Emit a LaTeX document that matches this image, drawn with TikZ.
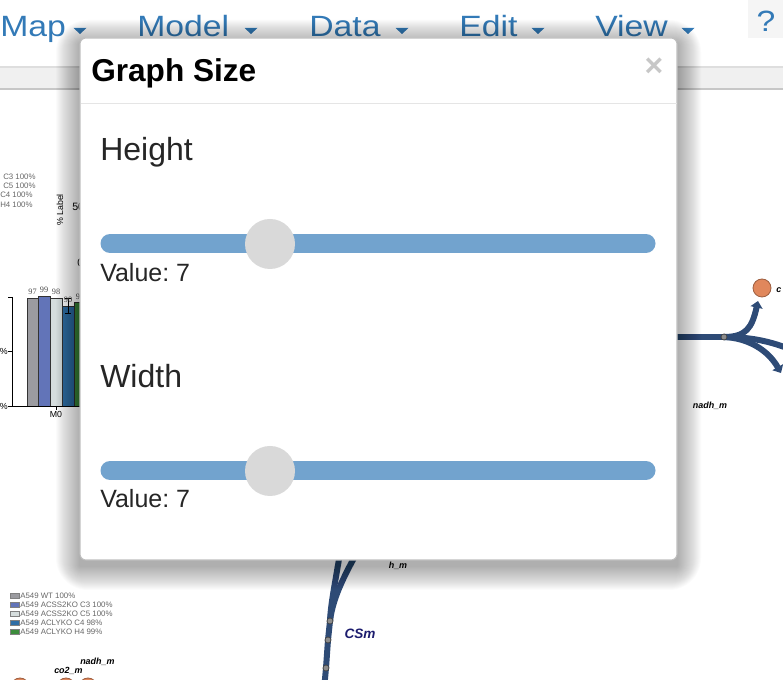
\documentclass[tikz,border=0pt]{standalone}
\usepackage{fontspec}
\setmainfont{Liberation Sans}
\newfontfamily\chartserif{Liberation Serif}
\usetikzlibrary{arrows.meta,backgrounds}
\frenchspacing

\definecolor{menublue}{HTML}{337AB7}
\definecolor{trackblue}{HTML}{72A3CE}
\definecolor{knobgray}{HTML}{D9D9D9}
\definecolor{fluxblue}{HTML}{2E4B76}
\definecolor{metorange}{HTML}{E0875C}
\definecolor{cssnavy}{HTML}{1C1C6E}
\definecolor{barA}{HTML}{9B9BA0}
\definecolor{barB}{HTML}{6274B8}
\definecolor{barC}{HTML}{D5DDDD}
\definecolor{barD}{HTML}{2F6EA5}
\definecolor{barE}{HTML}{3C8C3C}

\begin{document}
\begin{tikzpicture}[x=0.75pt, y=-0.75pt, every node/.style={inner sep=0pt},
	menu/.style={anchor=base west, text=menublue, xscale=1.15, font=\fontsize{22}{26}\selectfont},
	dlgtitle/.style={anchor=base west, font=\bfseries\fontsize{23.7}{28}\selectfont},
	dlglabel/.style={anchor=base west, text=black!85, font=\fontsize{24}{28}\selectfont},
	dlgvalue/.style={anchor=base west, text=black!85, font=\fontsize{18.75}{22}\selectfont},
	track/.style={draw=trackblue, line width=14.25pt, line cap=round},
	knob/.style={circle, fill=knobgray, minimum size=37.5pt},
	legtext/.style={anchor=west, text=black!60, font=\fontsize{5.9}{6}\selectfont},
	axtext/.style={font=\fontsize{6.6}{7}\selectfont},
	valtext/.style={font=\chartserif\fontsize{6.2}{7}\selectfont, text=black!70},
	metlabel/.style={font=\bfseries\itshape\fontsize{6.7}{7}\selectfont},
	flux/.style={draw=fluxblue, line width=4.5pt},
	rxn/.style={circle, draw=black!75, fill=black!45, minimum size=4.5pt, line width=0.5pt},
	met/.style={circle, draw=metorange!70!black, fill=metorange, minimum size=13.5pt, line width=0.6pt},
	bar/.style={draw=black!80, line width=0.5pt}]
	\useasboundingbox (0,0) rectangle (783,680);

	% top menu
	\fill[black!4] (748,0) rectangle (783,38);
	\node[menu] (mmap) at (0,37) {Map};
	\node[menu] (mmodel) at (137,37) {Model};
	\node[menu] (mdata) at (309,37) {Data};
	\node[menu] (medit) at (459,37) {Edit};
	\node[menu] (mview) at (595,37) {View};
	\node[menu, anchor=base] (mhelp) at (766,32) {?};
	\foreach \cx in {80,251,402,538,688}
		\fill[menublue] (\cx-6.5,28) -- (\cx+6.5,28) -- (\cx,34) -- cycle;

	% toolbar band
	\fill[black!6] (0,68) rectangle (783,89);
	\draw[black!13, line width=1.5pt] (0,67.5) -- (783,67.5);
	\draw[black!22, line width=1.5pt] (0,89.5) -- (783,89.5);

	% left legend, axis and bars
	\node[legtext] (lgc3) at (3,177) {C3 100\%};
	\node[legtext] (lgc5) at (3,186) {C5 100\%};
	\node[legtext] (lgc4) at (0,195) {C4 100\%};
	\node[legtext] (lgh4) at (0,205) {H4 100\%};
	\node[axtext, rotate=90] (ylab) at (60,210) {\% Label};
	\node[axtext, anchor=west, font=\fontsize{8}{9}\selectfont] (yfifty) at (72,207) {50};
	\node[axtext, anchor=west, font=\fontsize{8}{9}\selectfont] (yzero) at (77,263) {0};

	\fill[barA, bar] (27,298) rectangle (38,406);
	\fill[barB, bar] (38,296) rectangle (50,406);
	\fill[barC, bar] (50,298) rectangle (62,406);
	\fill[barD, bar] (62,306) rectangle (74,406);
	\fill[barE, bar] (74,302) rectangle (86,406);
	\draw[black, line width=0.6pt] (68,298) -- (68,313) (65,298) -- (71,298) (65,313) -- (71,313);
	\draw[black, line width=0.6pt] (12,297) -- (12,406) -- (90,406);
	\draw[black, line width=0.6pt] (8,297) -- (12,297) (8,351) -- (12,351) (8,406) -- (12,406) (56,406) -- (56,410);
	\node[valtext] (v1) at (32.5,292) {97};
	\node[valtext] (v2) at (44,290) {99};
	\node[valtext] (v3) at (56,292) {98};
	\node[valtext] (v4) at (68,300) {90};
	\node[valtext] (v5) at (80,297) {99};
	\node[axtext, anchor=east] (yt1) at (8,351) {\%};
	\node[axtext, anchor=east] (yt2) at (8,406) {\%};
	\node[axtext] (xm0) at (56,414) {M0};

	% bottom legend
	\foreach \yy/\cc/\tt in {596/barA/A549 WT 100\%, 605/barB/A549 ACSS2KO C3 100\%,
			614/barC/A549 ACSS2KO C5 100\%, 623/barD/A549 ACLYKO C4 98\%, 632/barE/A549 ACLYKO H4 99\%}
	{
		\fill[\cc, draw=black!50, line width=0.4pt] (10,\yy-2.5) rectangle (19,\yy+2.5);
		\node[legtext] at (20,\yy) {\tt};
	}

	% pathway
	\node[rxn] (cs1) at (330,621) {};
	\node[rxn] (cs2) at (328,640) {};
	\node[rxn] (cs3) at (326,668) {};
	\coordinate (csA) at (342,540);
	\coordinate (csB) at (364,540);
	\coordinate (csend) at (324,690);
	\node[rxn] (rt) at (724,337) {};
	\coordinate (rtin) at (600,337);
	\coordinate (rtmid) at (792,350);
	\coordinate (rtlow) at (781,373);
	\node[met] (mco) at (762,288) {};
	\coordinate (mcoin) at (758,301);
	\node[met] (mb1) at (20,687) {};
	\node[met] (mb2) at (66,687) {};
	\node[met] (mb3) at (88,687) {};
	\begin{scope}[on background layer]
		\draw[flux] (csA) .. controls (336,580) and (331,600) .. (cs1.center);
		\draw[flux] (csB) .. controls (346,572) and (333,596) .. (cs1.center);
		\draw[flux] (cs1.center) -- (cs2.center) -- (cs3.center) -- (csend);
		\draw[flux] (rtin) -- (rt.center);
		\draw[flux, -{Triangle[length=5pt, width=9pt]}] (rt.center) .. controls (746,337) and (752,328) .. (mcoin);
		\draw[flux] (rt.center) .. controls (750,337) and (770,341) .. (rtmid);
		\draw[flux, -{Triangle[length=5pt, width=9pt]}] (rt.center) .. controls (748,338) and (768,350) .. (rtlow);
	\end{scope}
	\node[metlabel, text=cssnavy, font=\bfseries\itshape\fontsize{10.2}{12}\selectfont] (csm) at (360,634) {CSm};
	\node[metlabel] (hm) at (398,566) {h\_m};
	\node[metlabel] (nadhr) at (710,406) {nadh\_m};
	\node[metlabel, anchor=west] (nadhl) at (80,662) {nadh\_m};
	\node[metlabel, anchor=west] (co2l) at (54,671) {co2\_m};
	\node[metlabel, anchor=west] (mcolab) at (776,290) {c};

	% dialog shadow
	\foreach \i in {1,...,24}
		\fill[black, opacity=0.016, rounded corners=\i pt] ({80-\i},{44-\i}) rectangle ({677+\i},{566+\i});

	% dialog
	\fill[white, draw=black!25, line width=0.8pt, rounded corners=4.5pt] (80,38) rectangle (677,560);
	\draw[black!10, line width=1.1pt] (80.5,103.5) -- (676.5,103.5);
	\node[dlgtitle] (title) at (91,82) {Graph Size};
	\node[text=black!22, font=\bfseries\fontsize{24}{28}\selectfont] (close) at (654,67) {×};

	\node[dlglabel] (hlabel) at (100,161) {Height};
	\draw[track] (110,243.5) -- (646,243.5);
	\node[knob] (hknob) at (270,244) {};
	\node[dlgvalue] (hvalue) at (100,282) {Value: 7};

	\node[dlglabel] (wlabel) at (100,388) {Width};
	\draw[track] (110,470.5) -- (646,470.5);
	\node[knob] (wknob) at (270,471) {};
	\node[dlgvalue] (wvalue) at (100,508) {Value: 7};
\end{tikzpicture}
\end{document}
